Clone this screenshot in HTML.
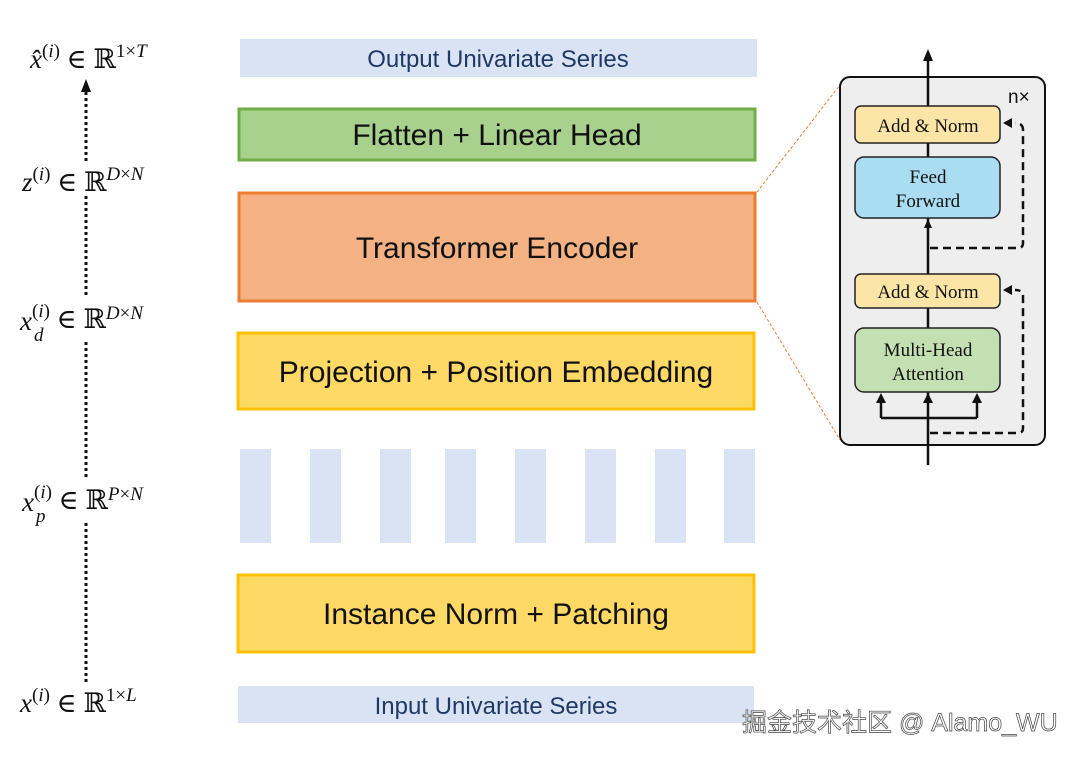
<!DOCTYPE html>
<html><head><meta charset="utf-8"><style>
html,body{margin:0;padding:0;background:#fff;}
svg{display:block}
.m{font-family:"Liberation Serif","DejaVu Serif",serif;font-size:27px;fill:#111}
.i{font-style:italic}
.b{font-family:"Liberation Sans",sans-serif;fill:#111}
.s{font-family:"Liberation Serif",serif;font-size:19px;fill:#111}
</style></head><body>
<svg width="1080" height="758" viewBox="0 0 1080 758" xmlns="http://www.w3.org/2000/svg">
<g stroke="#111" stroke-width="3" stroke-dasharray="3,3">
<line x1="86" y1="92" x2="86" y2="162"/>
<line x1="86" y1="196" x2="86" y2="298"/>
<line x1="86" y1="342" x2="86" y2="478"/>
<line x1="86" y1="523" x2="86" y2="684"/>
</g>
<polygon points="86,79 81,92 91,92" fill="#111"/>
<g class="m">
<text x="30" y="68"><tspan class="i">x̂</tspan><tspan font-size="19" dy="-11">(</tspan><tspan font-size="19" class="i">i</tspan><tspan font-size="19">)</tspan><tspan dy="11"> ∈ ℝ</tspan><tspan font-size="19" dy="-11">1×</tspan><tspan font-size="19" class="i">T</tspan></text>
<text x="22" y="191"><tspan class="i">z</tspan><tspan font-size="19" dy="-11">(</tspan><tspan font-size="19" class="i">i</tspan><tspan font-size="19">)</tspan><tspan dy="11"> ∈ ℝ</tspan><tspan font-size="19" dy="-11" class="i">D</tspan><tspan font-size="19">×</tspan><tspan font-size="19" class="i">N</tspan></text>
<text x="20" y="330"><tspan class="i">x</tspan><tspan font-size="19" dy="-13">(</tspan><tspan font-size="19" class="i">i</tspan><tspan font-size="19">)</tspan><tspan dy="11"> ∈ ℝ</tspan><tspan font-size="19" dy="-9" class="i">D</tspan><tspan font-size="19">×</tspan><tspan font-size="19" class="i">N</tspan></text>
<text x="34" y="341" font-size="19" class="i">d</text>
<text x="22" y="511"><tspan class="i">x</tspan><tspan font-size="19" dy="-13">(</tspan><tspan font-size="19" class="i">i</tspan><tspan font-size="19">)</tspan><tspan dy="11"> ∈ ℝ</tspan><tspan font-size="19" dy="-9" class="i">P</tspan><tspan font-size="19">×</tspan><tspan font-size="19" class="i">N</tspan></text>
<text x="36" y="522" font-size="19" class="i">p</text>
<text x="20" y="712"><tspan class="i">x</tspan><tspan font-size="19" dy="-11">(</tspan><tspan font-size="19" class="i">i</tspan><tspan font-size="19">)</tspan><tspan dy="11"> ∈ ℝ</tspan><tspan font-size="19" dy="-11">1×</tspan><tspan font-size="19" class="i">L</tspan></text>
</g>
<rect x="240" y="39" width="517" height="38" fill="#dae3f3"/>
<text x="498" y="67" text-anchor="middle" class="b" font-size="24" style="fill:#1f3864">Output Univariate Series</text>
<rect x="239" y="109" width="516" height="51" fill="#a9d18e" stroke="#70ad47" stroke-width="3"/>
<text x="497" y="145" text-anchor="middle" class="b" font-size="30">Flatten + Linear Head</text>
<rect x="239" y="193" width="516" height="108" fill="#f4b183" stroke="#ed7d31" stroke-width="3"/>
<text x="497" y="258" text-anchor="middle" class="b" font-size="30">Transformer Encoder</text>
<rect x="238" y="333" width="516" height="76" fill="#ffd966" stroke="#ffc000" stroke-width="3"/>
<text x="496" y="382" text-anchor="middle" class="b" font-size="30">Projection + Position Embedding</text>
<g fill="#dae3f3">
<rect x="240" y="449" width="31" height="94"/><rect x="310" y="449" width="31" height="94"/>
<rect x="380" y="449" width="31" height="94"/><rect x="445" y="449" width="31" height="94"/>
<rect x="515" y="449" width="31" height="94"/><rect x="585" y="449" width="31" height="94"/>
<rect x="655" y="449" width="31" height="94"/><rect x="724" y="449" width="31" height="94"/>
</g>
<rect x="238" y="575" width="516" height="77" fill="#ffd966" stroke="#ffc000" stroke-width="3"/>
<text x="496" y="624" text-anchor="middle" class="b" font-size="30">Instance Norm + Patching</text>
<rect x="238" y="686" width="516" height="37" fill="#dae3f3"/>
<text x="496" y="714" text-anchor="middle" class="b" font-size="24" style="fill:#1f3864">Input Univariate Series</text>
<g stroke="#ed7d31" stroke-width="1" stroke-dasharray="3,2">
<line x1="757" y1="192" x2="840" y2="85"/>
<line x1="757" y1="302" x2="840" y2="440"/>
</g>
<rect x="840" y="77" width="205" height="368" rx="10" fill="#eeeeee" stroke="#111" stroke-width="2"/>
<text x="1008" y="103" font-family="Liberation Sans,sans-serif" font-size="19" fill="#111">n×</text>
<line x1="928" y1="465" x2="928" y2="60" stroke="#111" stroke-width="2.5"/>
<polygon points="928,49 923,61 933,61" fill="#111"/>
<rect x="855" y="106" width="145" height="37" rx="6" fill="#fbe5a6" stroke="#222" stroke-width="1.5"/>
<text x="928" y="132" text-anchor="middle" class="s">Add &amp; Norm</text>
<rect x="855" y="157" width="145" height="61" rx="9" fill="#aadcf2" stroke="#222" stroke-width="1.5"/>
<text x="928" y="183" text-anchor="middle" class="s">Feed</text>
<text x="928" y="207" text-anchor="middle" class="s">Forward</text>
<polygon points="928,219 924,228 932,228" fill="#111"/>
<rect x="855" y="274" width="145" height="34" rx="6" fill="#fbe5a6" stroke="#222" stroke-width="1.5"/>
<text x="928" y="298" text-anchor="middle" class="s">Add &amp; Norm</text>
<rect x="855" y="328" width="145" height="64" rx="9" fill="#c4e0b2" stroke="#222" stroke-width="1.5"/>
<text x="928" y="356" text-anchor="middle" class="s">Multi-Head</text>
<text x="928" y="380" text-anchor="middle" class="s">Attention</text>
<path d="M881,418 H977 M881,418 V400 M977,418 V400" stroke="#111" stroke-width="2.5" fill="none"/>
<polygon points="881,393 876,403 886,403" fill="#111"/>
<polygon points="928,393 923,403 933,403" fill="#111"/>
<polygon points="977,393 972,403 982,403" fill="#111"/>
<g stroke="#111" stroke-width="2.5" fill="none" stroke-dasharray="8,5">
<path d="M930,433 H1018 Q1023,433 1023,428 V296 Q1023,290 1015,290"/>
<path d="M930,248 H1018 Q1023,248 1023,243 V130 Q1023,123 1015,123"/>
</g>
<polygon points="1003,123 1012,118 1012,128" fill="#111"/>
<polygon points="1003,290 1012,285 1012,295" fill="#111"/>
<text x="742" y="731" font-family="Liberation Sans,'Noto Sans CJK SC',sans-serif" font-size="25" fill="#fff" stroke="#444" stroke-width="0.7">掘金技术社区 @ Alamo_WU</text>
</svg>
</body></html>
